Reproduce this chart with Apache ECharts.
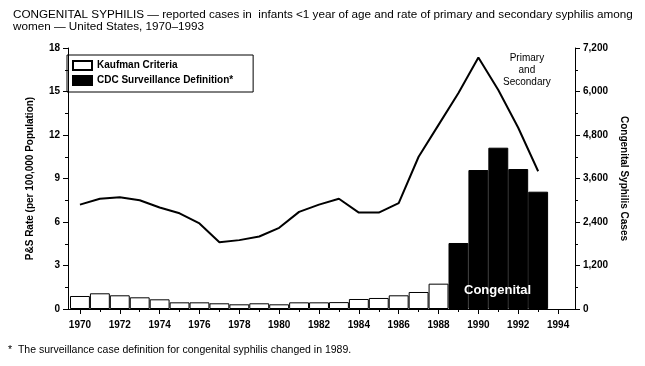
<!DOCTYPE html>
<html>
<head>
<meta charset="utf-8">
<script src="https://cdn.jsdelivr.net/npm/echarts@6/dist/echarts.min.js"></script>
<style>
html,body{margin:0;padding:0;background:#fff;}
#c{width:645px;height:366px;}
</style>
</head>
<body>
<div id="c"></div>
<script>
// ---- data ----
var years = [1970,1971,1972,1973,1974,1975,1976,1977,1978,1979,1980,1981,1982,1983,1984,1985,1986,1987,1988,1989,1990,1991,1992,1993];
var psRate = [7.2,7.6,7.7,7.5,7.0,6.6,5.9,4.6,4.75,5.0,5.6,6.7,7.2,7.6,6.65,6.65,7.3,10.5,12.7,14.9,17.35,15.1,12.5,9.5];
var kaufmanYears = [1970,1971,1972,1973,1974,1975,1976,1977,1978,1979,1980,1981,1982,1983,1984,1985,1986,1987,1988];
var kaufmanCases = [359,433,378,322,267,184,184,157,129,157,129,184,184,190,276,304,378,469,699];
var cdcYears = [1989,1990,1991,1992,1993];
var cdcCases = [1821,3834,4450,3862,3236];
var evenYearTicks = [1970,1972,1974,1976,1978,1980,1982,1984,1986,1988,1990,1992,1994];
var oddYearTicks = [1971,1973,1975,1977,1979,1981,1983,1985,1987,1989,1991,1993];
var titleText = 'CONGENITAL SYPHILIS \u2014 reported cases in  infants <1 year of age and rate of primary and secondary syphilis among\nwomen \u2014 United States, 1970\u20131993';
var footnote = '*  The surveillance case definition for congenital syphilis changed in 1989.';

function pairs(xs, ys){ return xs.map(function(x,i){ return [x, ys[i]]; }); }

var FONT = 'Liberation Sans, Arial, sans-serif';
var chart = echarts.init(document.getElementById('c'), null, {renderer:'canvas'});
var option = {
  animation:false,
  backgroundColor:'#fff',
  textStyle:{fontFamily:FONT, color:'#000'},
  title:{
    text:titleText, left:8, top:4,
    textStyle:{fontSize:11.7, fontWeight:'normal', color:'#000', lineHeight:12, fontFamily:FONT}
  },
  legend:{
    orient:'vertical', left:67, top:55,
    data:['Kaufman Criteria','CDC Surveillance Definition*'],
    icon:'rect', itemWidth:19, itemHeight:9, itemGap:4,
    borderColor:'#000', borderWidth:1, padding:[5,20,6,5],
    textStyle:{fontSize:10, fontWeight:'bold', color:'#000', fontFamily:FONT},
    selectedMode:false
  },
  grid:{left:68, right:70, top:48, bottom:57, containLabel:false},
  xAxis:[{
    type:'value', min:1969.4, max:1994.85,
    axisLine:{show:true, onZero:false, lineStyle:{color:'#000', width:1}},
    axisTick:{show:true, customValues:evenYearTicks, length:5, lineStyle:{color:'#000'}},
    axisLabel:{customValues:evenYearTicks, margin:11, fontSize:10, fontWeight:'bold', color:'#000', fontFamily:FONT,
      formatter:function(v){return String(v);}},
    splitLine:{show:false}
  },{
    type:'value', min:1969.4, max:1994.85, position:'bottom',
    axisLine:{show:false},
    axisTick:{show:true, customValues:oddYearTicks, length:3, lineStyle:{color:'#000'}},
    axisLabel:{show:false},
    splitLine:{show:false}
  }],
  yAxis:[{
    type:'value', min:0, max:18, interval:3, position:'left',
    name:'P&S Rate (per 100,000 Population)', nameLocation:'middle', nameGap:33,
    nameTextStyle:{fontSize:10, fontWeight:'bold', color:'#000', fontFamily:FONT},
    axisLine:{show:true, lineStyle:{color:'#000'}},
    axisTick:{show:true, length:5, lineStyle:{color:'#000'}},
    minorTick:{show:true, splitNumber:2, length:3, lineStyle:{color:'#000'}},
    axisLabel:{margin:8, fontSize:10, fontWeight:'bold', color:'#000', fontFamily:FONT},
    splitLine:{show:false}
  },{
    type:'value', min:0, max:7200, interval:1200, position:'right',
    name:'Congenital Syphilis Cases', nameLocation:'middle', nameGap:42, nameRotate:-90,
    nameTextStyle:{fontSize:10, fontWeight:'bold', color:'#000', fontFamily:FONT},
    axisLine:{show:true, lineStyle:{color:'#000'}},
    axisTick:{show:true, length:5, lineStyle:{color:'#000'}},
    minorTick:{show:true, splitNumber:2, length:3, lineStyle:{color:'#000'}},
    axisLabel:{margin:8, fontSize:10, fontWeight:'bold', color:'#000', fontFamily:FONT,
      formatter:function(v){return v.toLocaleString('en-US');}},
    splitLine:{show:false}
  }],
  series:[{
    name:'Kaufman Criteria', type:'bar', xAxisIndex:0, yAxisIndex:1,
    data:pairs(kaufmanYears, kaufmanCases), barWidth:19.9, barGap:'-100%',
    itemStyle:{color:'#fff', borderColor:'#000', borderWidth:1}
  },{
    name:'CDC Surveillance Definition*', type:'bar', xAxisIndex:0, yAxisIndex:1,
    data:pairs(cdcYears, cdcCases), barWidth:19.9, barGap:'-100%',
    itemStyle:{color:'#000', borderColor:'#000', borderWidth:1}
  },{
    name:'Primary and Secondary', type:'line', xAxisIndex:0, yAxisIndex:0,
    data:pairs(years, psRate), showSymbol:false, symbol:'none', z:5,
    lineStyle:{color:'#000', width:2}
  }],
  graphic:[
    {type:'text', z:100, left:503, top:52, style:{text:'Primary\nand\nSecondary', fill:'#000', font:'10px '+FONT, textAlign:'center', lineHeight:12}},
    {type:'text', z:100, left:464, top:284, style:{text:'Congenital', fill:'#fff', font:'bold 13px '+FONT}},
    {type:'text', z:100, left:8, top:345, style:{text:footnote, fill:'#000', font:'10.5px '+FONT}}
  ]
};
chart.setOption(option);
</script>
</body>
</html>
